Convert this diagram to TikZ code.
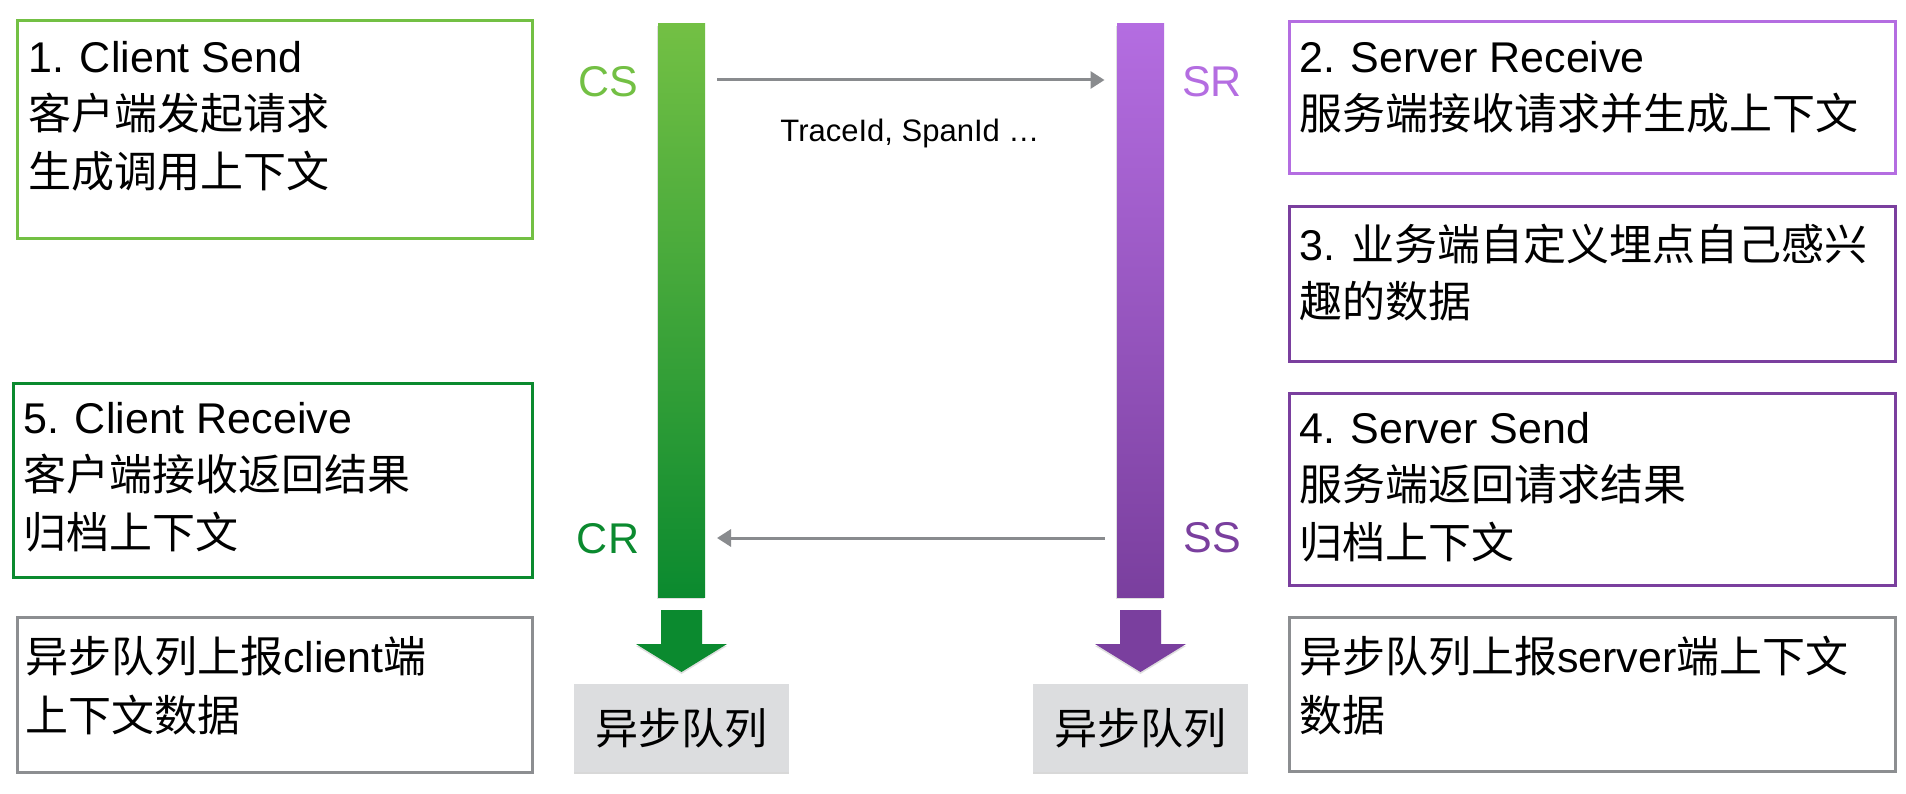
\documentclass[tikz,border=0pt]{standalone}
\usepackage{fontspec}
\setmainfont{Liberation Sans}
\newfontfamily\cjk{Noto Sans CJK SC}
\usetikzlibrary{arrows.meta,shadows}
\definecolor{lgreen}{HTML}{73C044}
\definecolor{dgreen}{HTML}{0B8A2F}
\definecolor{lpurple}{HTML}{B46DE1}
\definecolor{dpurple}{HTML}{7A3F9E}
\definecolor{bgray}{HTML}{8C8E91}
\definecolor{agray}{HTML}{898B8E}
\definecolor{qgray}{HTML}{DCDDDF}
\begin{document}
\begin{tikzpicture}[x=1pt,y=-1pt,
  frame/.style={draw, line width=3pt, inner sep=0pt, outer sep=0pt},
  txt/.style={anchor=north west, inner sep=0pt, align=left, font=\fontsize{43}{57.5}\selectfont},
  lbl/.style={anchor=base, inner sep=0pt, font=\fontsize{43}{57.5}\selectfont},
  bar/.style={minimum width=47pt, minimum height=573pt, inner sep=0pt, outer sep=0pt,
    drop shadow={shadow xshift=-1pt, shadow yshift=-2pt, opacity=0.25, fill=black!50}},
  queue/.style={fill=qgray, minimum width=215pt, minimum height=88pt, inner sep=0pt,
    font=\fontsize{43}{57.5}\selectfont\cjk,
    drop shadow={shadow xshift=0pt, shadow yshift=-2pt, opacity=0.3, fill=black!50}},
  msg/.style={draw=agray, line width=3pt, -{Triangle[length=14pt,width=17pt]}}
]
\useasboundingbox[fill=white] (0,0) rectangle (1906,794);

% bars
\node[bar, top color=lgreen, bottom color=dgreen] (csbar) at (681.5,310.5) {};
\node[bar, top color=lpurple, bottom color=dpurple] (srbar) at (1140.5,310.5) {};

% labels
\node[lbl, text=lgreen] (cs) at (608,97) {CS};
\node[lbl, text=dgreen] (cr) at (608,553) {CR};
\node[lbl, text=lpurple] (sr) at (1212,97) {SR};
\node[lbl, text=dpurple] (ss) at (1212,552) {SS};

% messages
\coordinate (ytop) at (0,80);
\coordinate (ybot) at (0,538);
\draw[msg, shorten <=12pt, shorten >=12.5pt] (csbar.east |- ytop) -- (srbar.west |- ytop);
\draw[msg, shorten <=12.5pt, shorten >=12pt] (srbar.west |- ybot) -- (csbar.east |- ybot);
\node[anchor=base, inner sep=0pt, font=\fontsize{31}{36}\selectfont] (trace) at (910,142) {TraceId, SpanId …};

% fat down arrows
\begin{scope}[shift={(csbar.south)}]
\fill[dgreen, drop shadow={shadow xshift=0pt, shadow yshift=-2pt, opacity=0.25, fill=black!50}]
  (-20.5,13) -- (20.5,13) -- (20.5,47) -- (45.5,47) -- (0,75) -- (-45.5,47) -- (-20.5,47) -- cycle;
\end{scope}
\begin{scope}[shift={(srbar.south)}]
\fill[dpurple, drop shadow={shadow xshift=0pt, shadow yshift=-2pt, opacity=0.25, fill=black!50}]
  (-20.5,13) -- (20.5,13) -- (20.5,47) -- (45.5,47) -- (0,75) -- (-45.5,47) -- (-20.5,47) -- cycle;
\end{scope}

% queues
\node[queue] (q1) at (681.5,728) {异步队列};
\node[queue] (q2) at (1140,728) {异步队列};

% left boxes
\node[frame, draw=lgreen, minimum width=515pt, minimum height=218pt] (b1) at (274.5,130) {};
\node[txt] (t1) at (28,31.75) {\strut 1. Client Send\\{\cjk 客户端发起请求}\\{\cjk 生成调用上下文}};

\node[frame, draw=dgreen, minimum width=519pt, minimum height=194pt] (b5) at (272.5,480) {};
\node[txt] (t5) at (23,392.75) {\strut 5. Client Receive\\{\cjk 客户端接收返回结果}\\{\cjk 归档上下文}};

\node[frame, draw=bgray, minimum width=515pt, minimum height=155pt] (bc) at (274.5,694.5) {};
\node[txt, font=\fontsize{43}{58.5}\selectfont] (tc) at (25,631.75) {\strut{\cjk 异步队列上报}client{\cjk 端}\\{\cjk 上下文数据}};

% right boxes
\node[frame, draw=lpurple, minimum width=606pt, minimum height=152pt] (b2) at (1592,98) {};
\node[txt] (t2) at (1299,31.75) {\strut 2. Server Receive\\{\cjk 服务端接收请求并生成上下文}};

\node[frame, draw=dpurple, minimum width=606pt, minimum height=154pt] (b3) at (1592,284) {};
\node[txt] (t3) at (1299,219.75) {\strut 3. {\cjk 业务端自定义埋点自己感兴}\\{\cjk 趣的数据}};

\node[frame, draw=dpurple, minimum width=606pt, minimum height=192pt] (b4) at (1592,489) {};
\node[txt] (t4) at (1299,402.75) {\strut 4. Server Send\\{\cjk 服务端返回请求结果}\\{\cjk 归档上下文}};

\node[frame, draw=bgray, minimum width=606pt, minimum height=154pt] (bs) at (1592,694) {};
\node[txt, font=\fontsize{43}{58.5}\selectfont] (ts) at (1299,631.75) {\strut{\cjk 异步队列上报}server{\cjk 端上下文}\\{\cjk 数据}};
\end{tikzpicture}
\end{document}
